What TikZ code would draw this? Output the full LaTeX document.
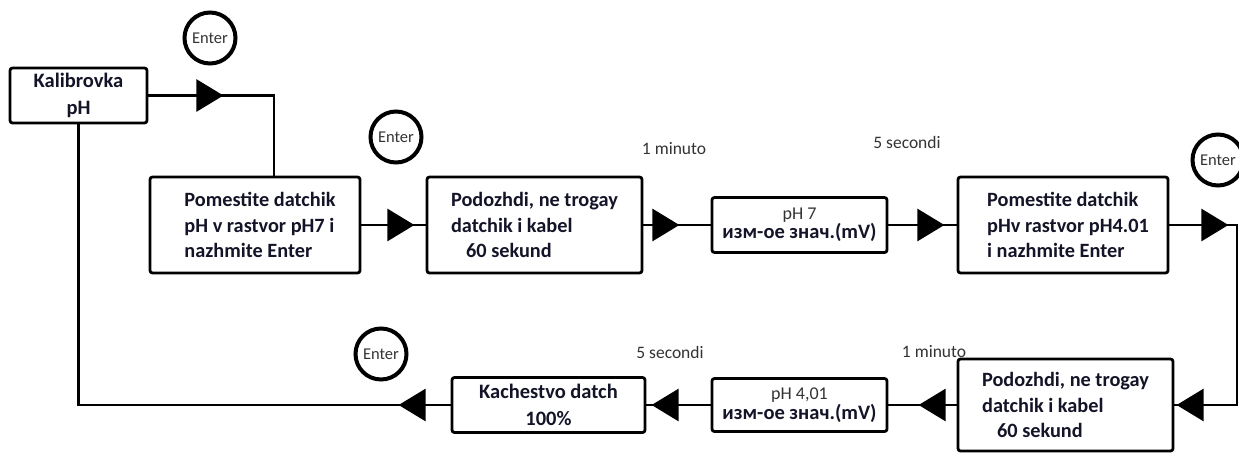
\documentclass[tikz,border=0pt]{standalone}
\usepackage{fontspec}
\setmainfont{Carlito}
\usetikzlibrary{arrows.meta,decorations.markings}
\definecolor{ink}{HTML}{141428}
\definecolor{soft}{HTML}{333333}
\begin{document}
\begin{tikzpicture}[x=1pt,y=-1pt,
  box/.style={draw=black, line width=2.8pt, rounded corners=2.5pt, inner sep=0pt,
    text=ink, font=\bfseries\fontsize{20.3}{25.5}\selectfont},
  stepbox/.style={box, align=left, minimum width=#1, minimum height=96pt},
  valbox/.style={box, align=center, minimum width=175pt, minimum height=#1,
    font=\fontsize{20.5}{19.5}\selectfont},
  key/.style={circle, draw=black, line width=4pt, minimum size=51pt, inner sep=0pt,
    text=soft, font=\fontsize{16.5}{16.5}\selectfont},
  delay/.style={text=soft, font=\fontsize{17.5}{17.5}\selectfont, inner sep=0pt},
  conn/.style={draw=black, line width=2.8pt},
  tri/.style={postaction={decorate, decoration={markings,
    mark=at position #1 with {\arrow{Triangle[length=27pt,width=32pt]}}}}},
  tritwo/.style 2 args={postaction={decorate, decoration={markings,
    mark=at position #1 with {\arrow{Triangle[length=27pt,width=32pt]}},
    mark=at position #2 with {\arrow{Triangle[length=27pt,width=32pt]}}}}}
]
\useasboundingbox (0,0) rectangle (1239,453);

% start box
\node[box, align=center, minimum width=137pt, minimum height=55pt,
  font=\bfseries\fontsize{20.5}{27}\selectfont] (kal) at (78.5,95.5) {Kalibrovka\\pH};

% upper row
\node[stepbox=210pt] (p1) at (255,225)
  {\hspace*{10pt}Pomestite datchik\\\hspace*{10pt}pH v rastvor pH7 i\\\hspace*{10pt}nazhmite Enter};
\node[stepbox=215pt] (p2) at (534.5,225)
  {Podozhdi, ne trogay\\datchik i kabel\\\hspace*{15pt}60 sekund};
\node[valbox=55pt] (ph7) at (799.5,225)
  {{\color{soft}\fontsize{18}{18}\selectfont pH 7}\\\textbf{изм-ое знач.(mV)}};
\node[stepbox=210pt] (p3) at (1063,225)
  {\hspace*{10pt}Pomestite datchik\\\hspace*{10pt}pHv rastvor pH4.01\\\hspace*{10pt}i nazhmite Enter};

% lower row
\node[stepbox=215pt, minimum height=92pt] (p4) at (1065.5,405)
  {Podozhdi, ne trogay\\datchik i kabel\\\hspace*{15pt}60 sekund};
\node[valbox=53pt] (ph4) at (799.5,405)
  {{\color{soft}\fontsize{18}{18}\selectfont pH 4,01}\\\textbf{изм-ое знач.(mV)}};
\node[box, align=center, minimum width=193pt, minimum height=55pt,
  font=\bfseries\fontsize{20.5}{27}\selectfont] (kach) at (548.5,405) {Kachestvo datch\\100\%};

% Enter keys
\node[key] (e1) at (210,38) {Enter};
\node[key] (e2) at (396,137) {Enter};
\node[key] (e3) at (1218,160) {Enter};
\node[key] (e4) at (381,354) {Enter};

% delays
\node[delay] (d1) at (674,149) {1 minuto};
\node[delay] (d2) at (907,142) {5 secondi};
\node[delay] (d3) at (670,352) {5 secondi};
\node[delay] (d4) at (934,352) {1 minuto};

% connectors
\path[conn, tri=75pt] (kal.east) -| ([xshift=19pt]p1.north);
\path[conn, tri=53pt] (p1.east) -- (p2.west);
\path[conn, tri=36pt] (p2.east) -- (ph7.west);
\path[conn, tri=56pt] (ph7.east) -- (p3.west);
\coordinate (rt) at (1237,225);
\path[conn, tritwo={59pt}{308pt}] (p3.east) -- (rt) |- (p4.east);
\path[conn, tri=38pt] (p4.west) -- (ph4.east);
\path[conn, tri=59pt] (ph4.west) -- (kach.east);
\path[conn, tri=52pt] (kach.west) -| (kal.south);
\end{tikzpicture}
\end{document}
